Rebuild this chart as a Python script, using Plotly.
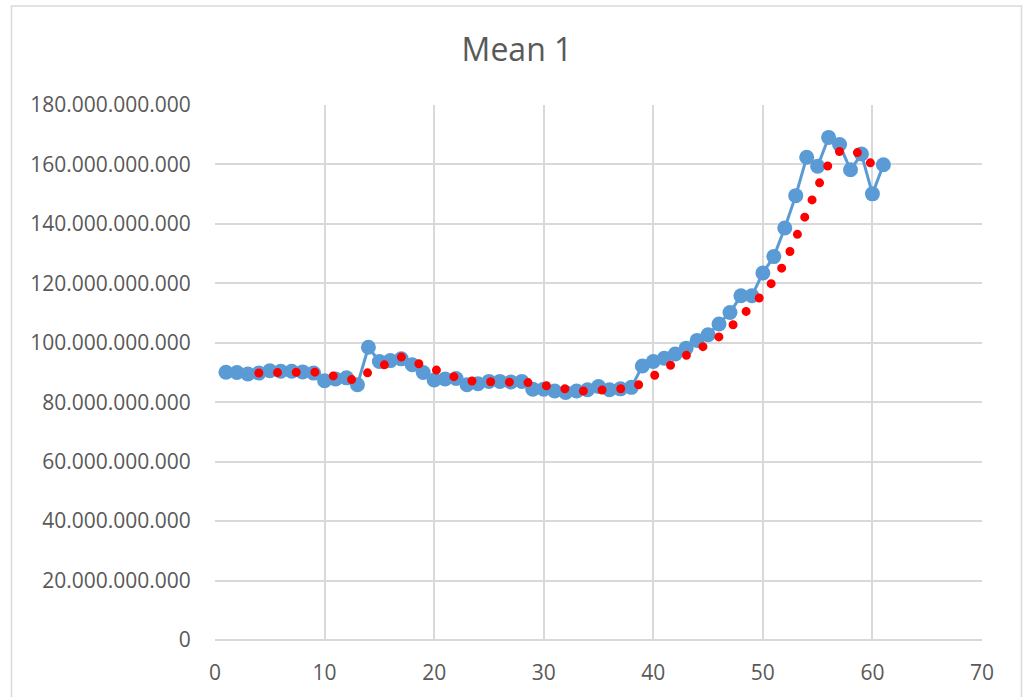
import pandas as pd
import plotly.graph_objects as go

# Period index and the mean value (in billions) for each period
periods = list(range(1, 62))
mean_bn = [
    90.1, 90.0, 89.5, 89.8, 90.6, 90.4, 90.4, 90.2, 89.8, 87.2,
    87.8, 88.2, 85.9, 98.5, 93.7, 94.0, 94.6, 92.6, 90.0, 87.5,
    87.8, 88.0, 85.9, 86.2, 87.0, 87.0, 86.8, 87.0, 84.4, 84.4,
    83.8, 83.3, 83.8, 84.2, 85.3, 84.2, 84.5, 85.0, 92.2, 93.7,
    94.8, 96.2, 98.2, 100.8, 102.7, 106.3, 110.2, 115.8, 115.8, 123.5,
    129.0, 138.6, 149.5, 162.4, 159.4, 169.1, 166.7, 158.2, 163.5, 150.1,
    159.9,
]
ma_period = 4

x_ticks = list(range(0, 71, 10))
y_ticks = list(range(0, 180_000_000_001, 20_000_000_000))

values = pd.Series([v * 1e9 for v in mean_bn], index=periods)
moving_avg = values.rolling(ma_period).mean().dropna()

BLUE = "#5B9BD5"
RED = "#FF0000"
GRID = "#D9D9D9"
TEXT = "#595959"
FONT = "Open Sans"

fig = go.Figure()
fig.add_trace(go.Scatter(
    x=periods, y=values.values, mode="lines+markers",
    line=dict(color=BLUE, width=3),
    marker=dict(color=BLUE, size=15),
    name="Mean 1",
))
fig.add_trace(go.Scatter(
    x=list(moving_avg.index), y=moving_avg.values, mode="lines",
    line=dict(color=RED, width=9, dash="0px,18.7px"),
    name="4 per. Mov. Avg. (Mean 1)",
))

W, H = 1023, 697
L, R, T, B = 215, 41, 105, 57
pw, ph = W - L - R, H - T - B

def px_x(p):
    return (p - L) / pw

def px_y(p):
    return (H - B - p) / ph

# outer chart frame
fig.add_shape(type="rect", xref="paper", yref="paper",
              x0=px_x(11.5), x1=px_x(1021.5), y0=px_y(705), y1=px_y(6),
              line=dict(color=GRID, width=1.5), fillcolor="rgba(0,0,0,0)")

fig.update_layout(
    width=W, height=H,
    margin=dict(l=L, r=R, t=T, b=B),
    paper_bgcolor="white", plot_bgcolor="white",
    showlegend=False,
    separators=",.",
    font=dict(family=FONT, color=TEXT, size=21),
    title=dict(text="Mean 1", x=517 / W, xref="container", xanchor="center",
               y=1 - 50 / H, yref="container", yanchor="middle",
               font=dict(family=FONT, size=32, color=TEXT)),
)
fig.update_xaxes(
    range=[0, 70], tickvals=x_ticks, showgrid=True, gridcolor=GRID, gridwidth=1.5,
    zeroline=False, showline=False, automargin=False,
    ticks="outside", ticklen=14, tickcolor="rgba(0,0,0,0)",
    tickfont=dict(family=FONT, size=21, color=TEXT),
)
fig.update_yaxes(
    range=[0, 180e9], tickvals=y_ticks, tickformat=",d",
    showgrid=True, gridcolor=GRID, gridwidth=1.5,
    zeroline=True, zerolinecolor=GRID, zerolinewidth=1.5, showline=False,
    automargin=False,
    ticks="outside", ticklen=19, tickcolor="rgba(0,0,0,0)",
    tickfont=dict(family=FONT, size=21, color=TEXT),
)

# round caps turn the red dash pattern into round dots
post = """
document.querySelectorAll('.scatterlayer .js-line').forEach(function(p){
  if ((p.style.stroke || '').replace(/\\s/g,'') === 'rgb(255,0,0)') {
    p.style.strokeLinecap = 'round';
  }
});
"""
fig.write_html("out.html", post_script=post)
